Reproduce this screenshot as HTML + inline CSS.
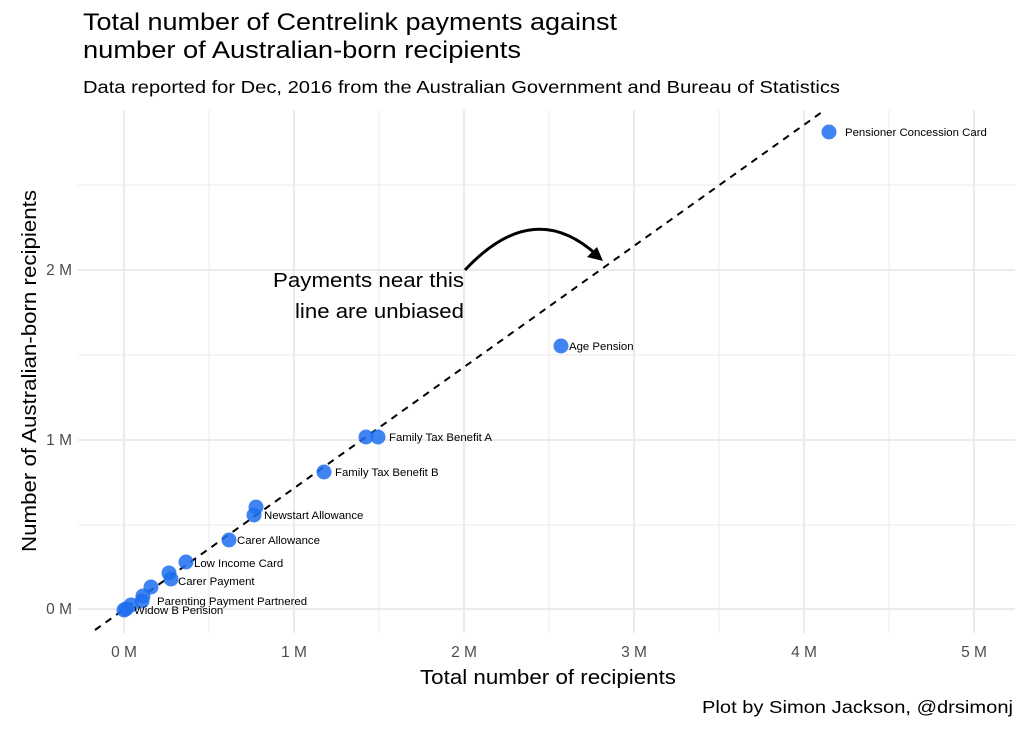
<!DOCTYPE html>
<html><head><style>body{margin:0;background:#fff}svg{display:block}text{font-family:"Liberation Sans",sans-serif}</style></head><body>
<svg width="1024" height="731" viewBox="0 0 1024 731">
<g stroke="#ebebeb" stroke-width="1">
<line x1="209" y1="110" x2="209" y2="633"/><line x1="379" y1="110" x2="379" y2="633"/><line x1="549" y1="110" x2="549" y2="633"/><line x1="719" y1="110" x2="719" y2="633"/><line x1="889" y1="110" x2="889" y2="633"/>
<line x1="78" y1="525" x2="1015" y2="525"/><line x1="78" y1="355" x2="1015" y2="355"/><line x1="78" y1="185" x2="1015" y2="185"/>
</g>
<g stroke="#ebebeb" stroke-width="2">
<line x1="124" y1="110" x2="124" y2="633"/><line x1="294" y1="110" x2="294" y2="633"/><line x1="464" y1="110" x2="464" y2="633"/><line x1="634" y1="110" x2="634" y2="633"/><line x1="804" y1="110" x2="804" y2="633"/><line x1="974" y1="110" x2="974" y2="633"/>
<line x1="78" y1="609" x2="1015" y2="609"/><line x1="78" y1="440" x2="1015" y2="440"/><line x1="78" y1="270" x2="1015" y2="270"/>
</g>
<line x1="95" y1="630" x2="822" y2="112" stroke="#000" stroke-width="2" stroke-dasharray="7,6"/>
<path d="M465,270 Q535,195 600,258" fill="none" stroke="#000" stroke-width="3"/>
<path d="M603,261 L587,257 L597,247 Z" fill="#000"/>
<g fill="#1f6ff0" fill-opacity="0.85">
<circle cx="829" cy="132" r="7.5"/><circle cx="561" cy="346" r="7.5"/><circle cx="378" cy="437" r="7.5"/><circle cx="366" cy="437" r="7.5"/><circle cx="324" cy="472" r="7.5"/>
<circle cx="256" cy="507" r="7.5"/><circle cx="254" cy="515" r="7.5"/><circle cx="229" cy="540" r="7.5"/><circle cx="186" cy="562" r="7.5"/>
<circle cx="169" cy="573" r="7.5"/><circle cx="171" cy="579" r="7.5"/><circle cx="151" cy="587" r="7.5"/><circle cx="143" cy="596" r="7.5"/><circle cx="142" cy="601" r="7.5"/>
<circle cx="131" cy="605" r="7.5"/><circle cx="126" cy="609" r="7.5"/><circle cx="124" cy="610" r="7.5"/>
</g>
<g font-size="11.4" fill="#000">
<text x="845" y="136">Pensioner Concession Card</text><text x="569" y="350">Age Pension</text><text x="389" y="441">Family Tax Benefit A</text>
<text x="335" y="476">Family Tax Benefit B</text><text x="264" y="519">Newstart Allowance</text><text x="237" y="544">Carer Allowance</text>
<text x="194" y="567">Low Income Card</text><text x="178" y="585">Carer Payment</text><text x="157" y="605">Parenting Payment Partnered</text><text x="134" y="614">Widow B Pension</text>
</g>
<g font-size="20" fill="#000"><text x="273" y="287" textLength="191" lengthAdjust="spacingAndGlyphs">Payments near this</text><text x="295" y="318" textLength="169" lengthAdjust="spacingAndGlyphs">line are unbiased</text></g>
<g font-size="15.5" fill="#4d4d4d" text-anchor="middle">
<text x="124" y="657">0 M</text><text x="294" y="657">1 M</text><text x="464" y="657">2 M</text><text x="634" y="657">3 M</text><text x="804" y="657">4 M</text><text x="974" y="657">5 M</text>
</g>
<g font-size="15.5" fill="#4d4d4d" text-anchor="end"><text x="72" y="614">0 M</text><text x="72" y="445">1 M</text><text x="72" y="275">2 M</text></g>
<text x="420" y="684" font-size="20" textLength="256" lengthAdjust="spacingAndGlyphs">Total number of recipients</text>
<text transform="translate(36,552) rotate(-90)" font-size="20" textLength="362" lengthAdjust="spacingAndGlyphs">Number of Australian-born recipients</text>
<text x="83" y="30" font-size="24" textLength="534" lengthAdjust="spacingAndGlyphs">Total number of Centrelink payments against</text>
<text x="83" y="58" font-size="24" textLength="438" lengthAdjust="spacingAndGlyphs">number of Australian-born recipients</text>
<text x="83" y="93" font-size="17.5" textLength="757" lengthAdjust="spacingAndGlyphs">Data reported for Dec, 2016 from the Australian Government and Bureau of Statistics</text>
<text x="702" y="713" font-size="17.5" textLength="311" lengthAdjust="spacingAndGlyphs">Plot by Simon Jackson, @drsimonj</text>
</svg></body></html>
